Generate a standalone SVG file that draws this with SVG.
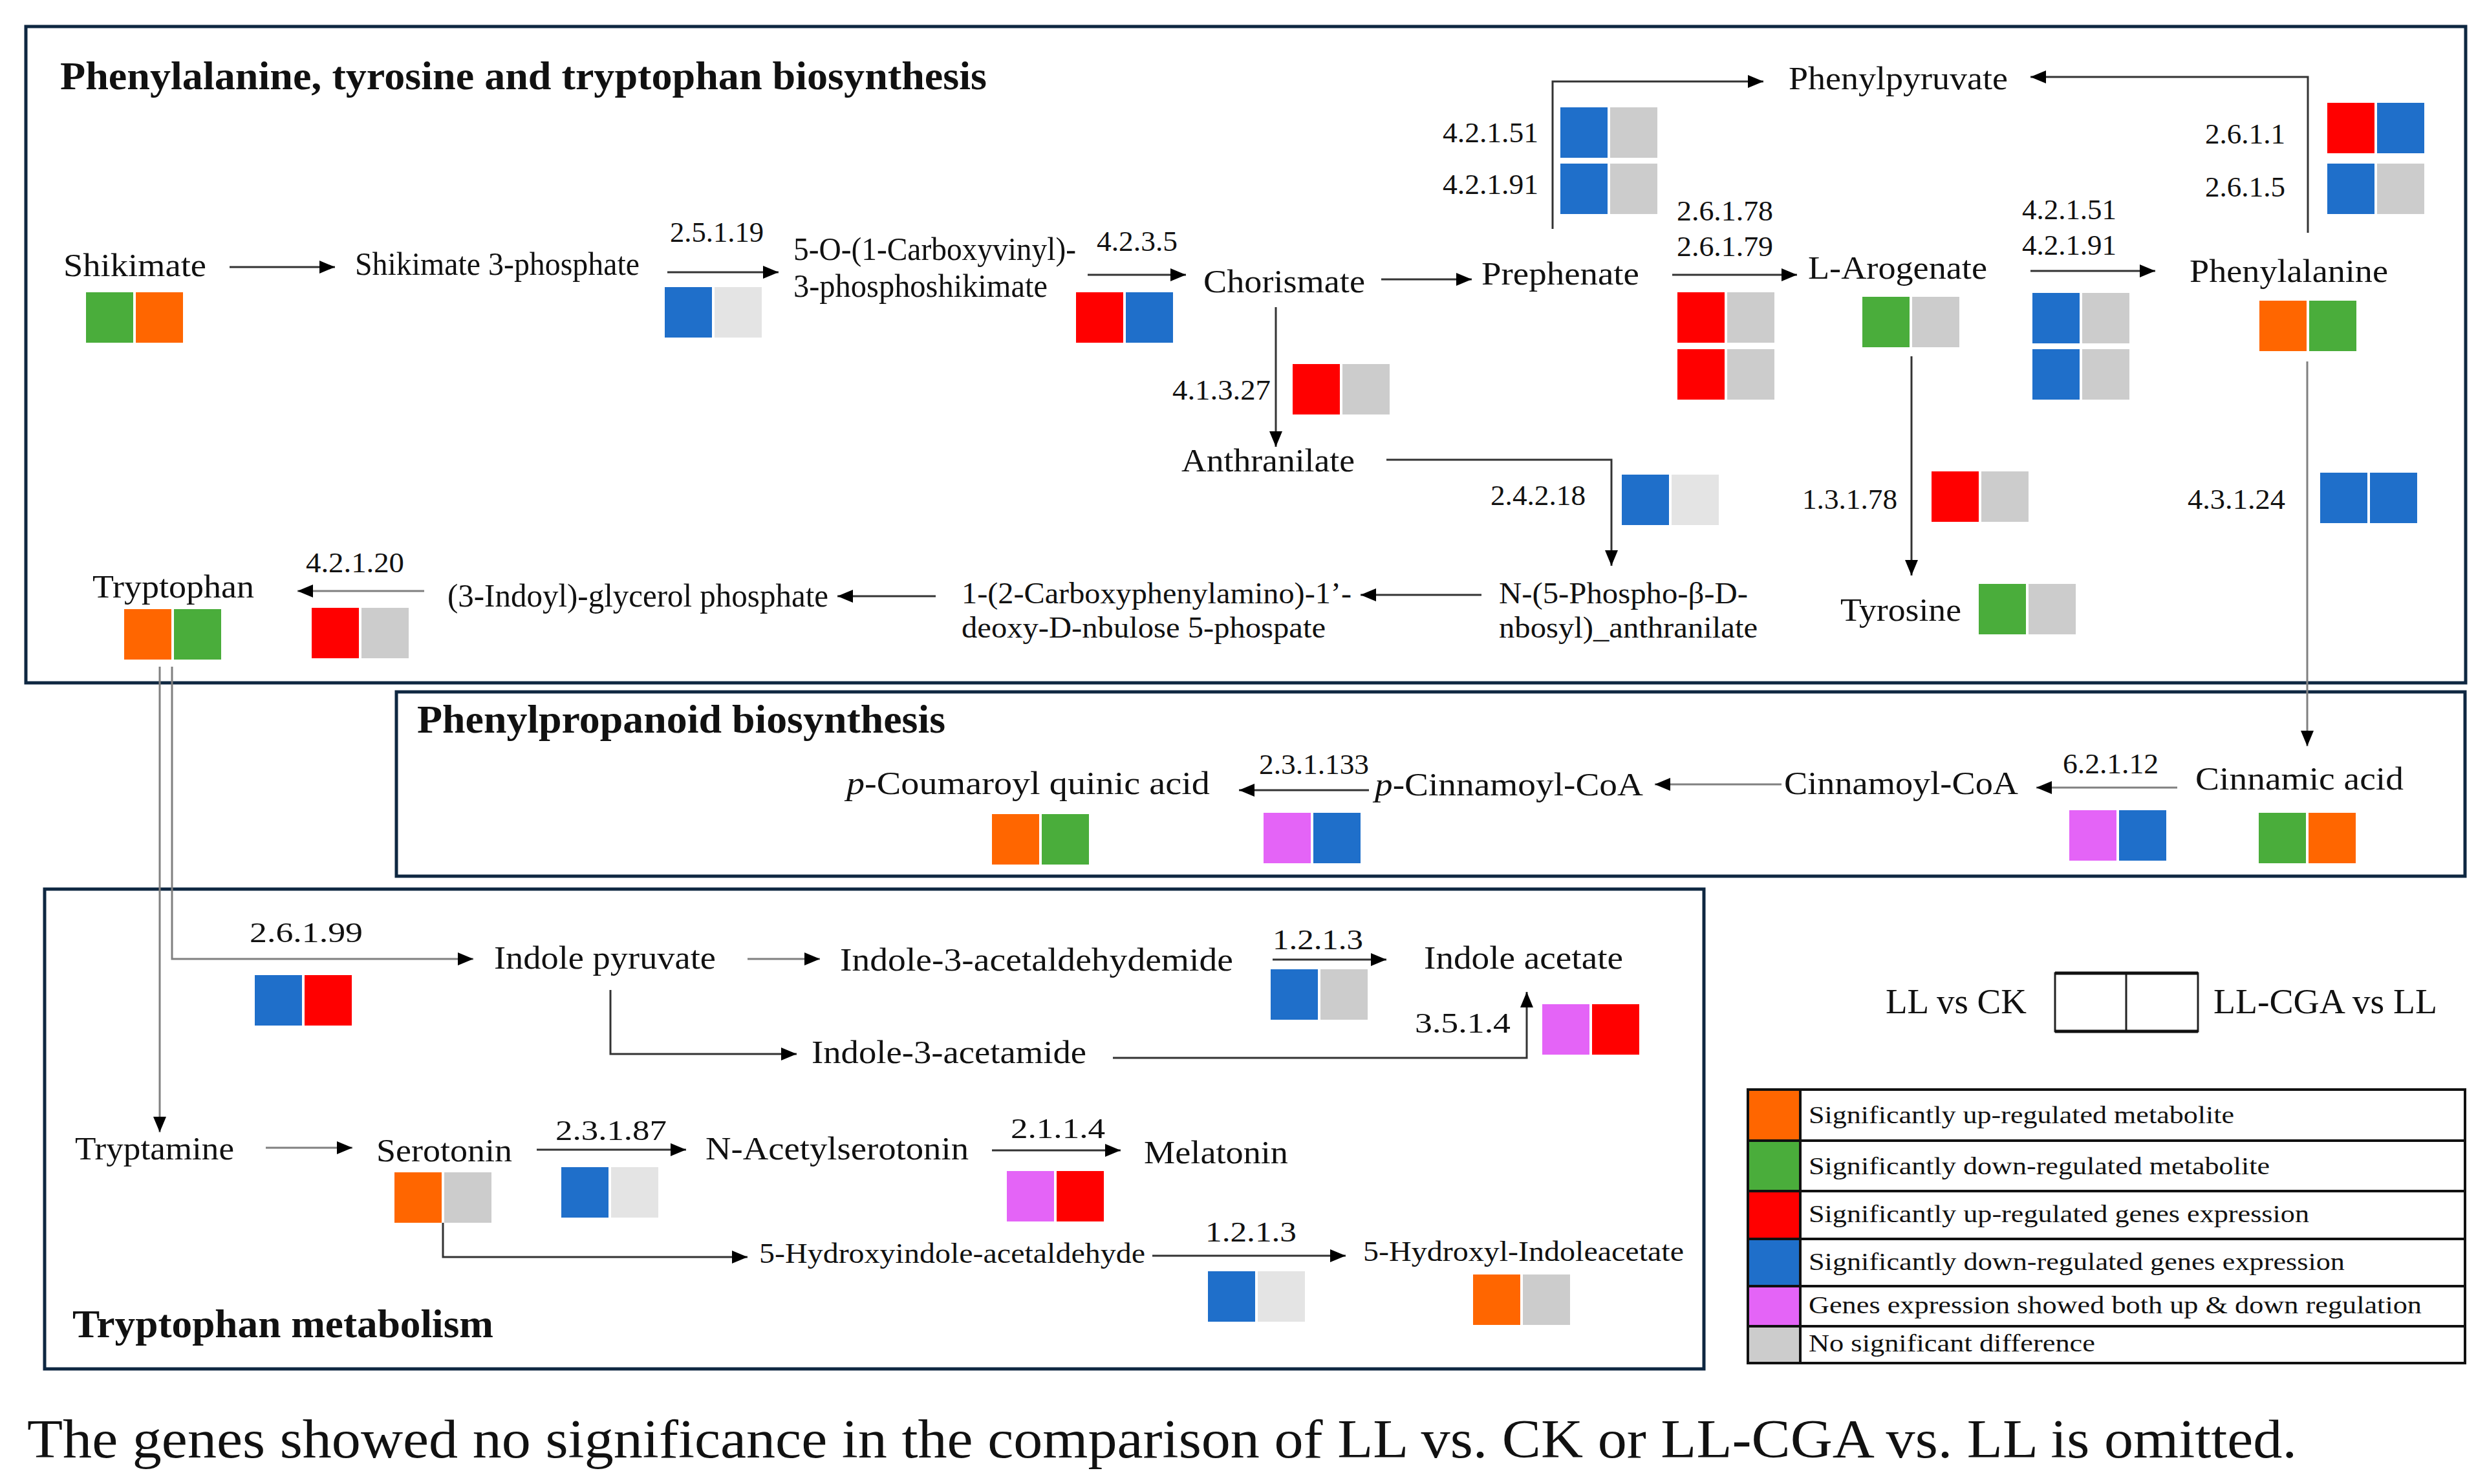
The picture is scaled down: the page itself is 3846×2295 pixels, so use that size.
<svg xmlns="http://www.w3.org/2000/svg" width="3846" height="2295" viewBox="0 0 3846 2295">
<style>
text{font-family:"Liberation Serif","Times New Roman",serif;fill:#111}
.mt{font-size:50px}
.ms{font-size:46px}
.ec{font-size:44px}
.tt{font-size:62px;font-weight:bold}
.lg{font-size:38px}
.hd{font-size:54px}
.cap{font-size:84px}
.box{fill:none;stroke:#0e2741;stroke-width:5}
.o{fill:#ff6600}.g{fill:#4aad3b}.r{fill:#ff0000}.b{fill:#1f6fca}.m{fill:#e464f7}.y{fill:#cccccc}.ly{fill:#e4e4e4}
.ln{fill:none;stroke:#333;stroke-width:3}
.lnG{fill:none;stroke:#808080;stroke-width:3}
.tb{fill:none;stroke:#111;stroke-width:4}
</style>
<defs>
<marker id="ah" markerUnits="userSpaceOnUse" markerWidth="24" markerHeight="20" refX="24" refY="10" orient="auto">
<path d="M0,0 L24,10 L0,20 z" fill="#000"/>
</marker>
</defs>
<rect width="3846" height="2295" fill="#fff"/>

<g id="panels">
<rect class="box" x="40" y="41" width="3773" height="1015"/>
<rect class="box" x="613" y="1070" width="3199" height="285"/>
<rect class="box" x="69" y="1375" width="2566" height="742"/>
<text class="tt" x="93" y="138" textLength="1433" lengthAdjust="spacingAndGlyphs">Phenylalanine, tyrosine and tryptophan biosynthesis</text>
<text class="tt" x="645" y="1133" textLength="817" lengthAdjust="spacingAndGlyphs">Phenylpropanoid biosynthesis</text>
<text class="tt" x="112" y="2068" textLength="651" lengthAdjust="spacingAndGlyphs">Tryptophan metabolism</text>
</g>

<g id="connectors">
<path class="ln" d="M355,413 H518" marker-end="url(#ah)"/>
<path class="ln" d="M1032,421 H1204" marker-end="url(#ah)"/>
<path class="ln" d="M1682,425 H1834" marker-end="url(#ah)"/>
<path class="ln" d="M2136,432 H2276" marker-end="url(#ah)"/>
<path class="ln" d="M1973,475 V691" marker-end="url(#ah)"/>
<path class="ln" d="M2401,354 V126 H2727" marker-end="url(#ah)"/>
<path class="ln" d="M2586,425 H2779" marker-end="url(#ah)"/>
<path class="ln" d="M3140,419 H3333" marker-end="url(#ah)"/>
<path class="ln" d="M3569,360 V119 H3140" marker-end="url(#ah)"/>
<path class="ln" d="M2956,551 V890" marker-end="url(#ah)"/>
<path class="lnG" d="M3568,559 V1154" marker-end="url(#ah)"/>
<path class="ln" d="M2144,711 H2492 V875" marker-end="url(#ah)"/>
<path class="ln" d="M2291,920 H2104" marker-end="url(#ah)"/>
<path class="ln" d="M1447,922 H1295" marker-end="url(#ah)"/>
<path class="lnG" d="M656,914 H460" marker-end="url(#ah)"/>
<path class="ln" d="M2117,1222 H1916" marker-end="url(#ah)"/>
<path class="lnG" d="M2755,1213 H2559" marker-end="url(#ah)"/>
<path class="lnG" d="M3367,1218 H3149" marker-end="url(#ah)"/>
<path class="lnG" d="M247,1031 V1751" marker-end="url(#ah)"/>
<path class="lnG" d="M266,1031 V1483 H732" marker-end="url(#ah)"/>
<path class="lnG" d="M1156,1483 H1268" marker-end="url(#ah)"/>
<path class="ln" d="M944,1531 V1630 H1232" marker-end="url(#ah)"/>
<path class="ln" d="M1968,1484 H2144" marker-end="url(#ah)"/>
<path class="ln" d="M1721,1636 H2361 V1534" marker-end="url(#ah)"/>
<path class="lnG" d="M411,1775 H545" marker-end="url(#ah)"/>
<path class="ln" d="M830,1778 H1061" marker-end="url(#ah)"/>
<path class="ln" d="M1534,1779 H1733" marker-end="url(#ah)"/>
<path class="ln" d="M685,1891 V1944 H1156" marker-end="url(#ah)"/>
<path class="ln" d="M1782,1942 H2081" marker-end="url(#ah)"/>
</g>

<g id="shikimate"><text class="mt" x="98" y="427" textLength="221" lengthAdjust="spacingAndGlyphs">Shikimate</text>
<g transform="translate(133,452)"><rect class="g" width="73" height="78"/><rect class="o" x="77" width="73" height="78"/></g></g>
<g id="shikimate-3-phosphate"><text class="mt" x="549" y="425" textLength="440" lengthAdjust="spacingAndGlyphs">Shikimate 3-phosphate</text></g>
<g id="ec-2.5.1.19"><text class="ec" x="1036" y="374" textLength="145" lengthAdjust="spacingAndGlyphs">2.5.1.19</text>
<g transform="translate(1028,444)"><rect class="b" width="73" height="78"/><rect class="ly" x="77" width="73" height="78"/></g></g>
<g id="carboxyvinyl"><text class="mt" x="1227" y="402" textLength="437" lengthAdjust="spacingAndGlyphs">5-O-(1-Carboxyvinyl)-</text>
<text class="mt" x="1227" y="459" textLength="393" lengthAdjust="spacingAndGlyphs">3-phosphoshikimate</text></g>
<g id="ec-4.2.3.5"><text class="ec" x="1696" y="388" textLength="125" lengthAdjust="spacingAndGlyphs">4.2.3.5</text>
<g transform="translate(1664,452)"><rect class="r" width="73" height="78"/><rect class="b" x="77" width="73" height="78"/></g></g>
<g id="chorismate"><text class="mt" x="1861" y="452" textLength="250" lengthAdjust="spacingAndGlyphs">Chorismate</text></g>
<g id="ec-4.1.3.27"><text class="ec" x="1813" y="618" textLength="152" lengthAdjust="spacingAndGlyphs">4.1.3.27</text>
<g transform="translate(1999,563)"><rect class="r" width="73" height="78"/><rect class="y" x="77" width="73" height="78"/></g></g>
<g id="prephenate"><text class="mt" x="2291" y="440" textLength="244" lengthAdjust="spacingAndGlyphs">Prephenate</text></g>
<g id="ec-4.2.1.51-91-a"><text class="ec" x="2231" y="220" textLength="148" lengthAdjust="spacingAndGlyphs">4.2.1.51</text>
<text class="ec" x="2231" y="300" textLength="148" lengthAdjust="spacingAndGlyphs">4.2.1.91</text>
<g transform="translate(2413,166)"><rect class="b" width="73" height="78"/><rect class="y" x="77" width="73" height="78"/></g>
<g transform="translate(2413,253)"><rect class="b" width="73" height="78"/><rect class="y" x="77" width="73" height="78"/></g></g>
<g id="phenylpyruvate"><text class="mt" x="2766" y="138" textLength="339" lengthAdjust="spacingAndGlyphs">Phenylpyruvate</text></g>
<g id="ec-2.6.1.78-79"><text class="ec" x="2593" y="341" textLength="149" lengthAdjust="spacingAndGlyphs">2.6.1.78</text>
<text class="ec" x="2593" y="396" textLength="149" lengthAdjust="spacingAndGlyphs">2.6.1.79</text>
<g transform="translate(2594,452)"><rect class="r" width="73" height="78"/><rect class="y" x="77" width="73" height="78"/></g>
<g transform="translate(2594,540)"><rect class="r" width="73" height="78"/><rect class="y" x="77" width="73" height="78"/></g></g>
<g id="l-arogenate"><text class="mt" x="2796" y="431" textLength="277" lengthAdjust="spacingAndGlyphs">L-Arogenate</text>
<g transform="translate(2880,459)"><rect class="g" width="73" height="78"/><rect class="y" x="77" width="73" height="78"/></g></g>
<g id="ec-4.2.1.51-91-b"><text class="ec" x="3127" y="339" textLength="146" lengthAdjust="spacingAndGlyphs">4.2.1.51</text>
<text class="ec" x="3127" y="394" textLength="146" lengthAdjust="spacingAndGlyphs">4.2.1.91</text>
<g transform="translate(3143,453)"><rect class="b" width="73" height="78"/><rect class="y" x="77" width="73" height="78"/></g>
<g transform="translate(3143,540)"><rect class="b" width="73" height="78"/><rect class="y" x="77" width="73" height="78"/></g></g>
<g id="phenylalanine"><text class="mt" x="3386" y="436" textLength="307" lengthAdjust="spacingAndGlyphs">Phenylalanine</text>
<g transform="translate(3494,465)"><rect class="o" width="73" height="78"/><rect class="g" x="77" width="73" height="78"/></g></g>
<g id="ec-2.6.1.1-5"><text class="ec" x="3410" y="222" textLength="124" lengthAdjust="spacingAndGlyphs">2.6.1.1</text>
<text class="ec" x="3410" y="304" textLength="124" lengthAdjust="spacingAndGlyphs">2.6.1.5</text>
<g transform="translate(3599,159)"><rect class="r" width="73" height="78"/><rect class="b" x="77" width="73" height="78"/></g>
<g transform="translate(3599,253)"><rect class="b" width="73" height="78"/><rect class="y" x="77" width="73" height="78"/></g></g>
<g id="anthranilate"><text class="mt" x="1827" y="729" textLength="268" lengthAdjust="spacingAndGlyphs">Anthranilate</text></g>
<g id="ec-2.4.2.18"><text class="ec" x="2305" y="781" textLength="147" lengthAdjust="spacingAndGlyphs">2.4.2.18</text>
<g transform="translate(2508,734)"><rect class="b" width="73" height="78"/><rect class="ly" x="77" width="73" height="78"/></g></g>
<g id="ec-1.3.1.78"><text class="ec" x="2787" y="787" textLength="147" lengthAdjust="spacingAndGlyphs">1.3.1.78</text>
<g transform="translate(2987,729)"><rect class="r" width="73" height="78"/><rect class="y" x="77" width="73" height="78"/></g></g>
<g id="ec-4.3.1.24"><text class="ec" x="3383" y="787" textLength="151" lengthAdjust="spacingAndGlyphs">4.3.1.24</text>
<g transform="translate(3588,731)"><rect class="b" width="73" height="78"/><rect class="b" x="77" width="73" height="78"/></g></g>
<g id="tyrosine"><text class="mt" x="2846" y="960" textLength="187" lengthAdjust="spacingAndGlyphs">Tyrosine</text>
<g transform="translate(3060,903)"><rect class="g" width="73" height="78"/><rect class="y" x="77" width="73" height="78"/></g></g>
<g id="phosphoribosyl-anthranilate"><text class="ms" x="2318" y="933" textLength="385" lengthAdjust="spacingAndGlyphs">N-(5-Phospho-β-D-</text>
<text class="ms" x="2318" y="986" textLength="400" lengthAdjust="spacingAndGlyphs">nbosyl)_anthranilate</text></g>
<g id="carboxyphenylamino"><text class="ms" x="1487" y="933" textLength="603" lengthAdjust="spacingAndGlyphs">1-(2-Carboxyphenylamino)-1’-</text>
<text class="ms" x="1487" y="986" textLength="563" lengthAdjust="spacingAndGlyphs">deoxy-D-nbulose 5-phospate</text></g>
<g id="indoylglycerol"><text class="mt" x="692" y="938" textLength="589" lengthAdjust="spacingAndGlyphs">(3-Indoyl)-glycerol phosphate</text></g>
<g id="ec-4.2.1.20"><text class="ec" x="473" y="885" textLength="152" lengthAdjust="spacingAndGlyphs">4.2.1.20</text>
<g transform="translate(482,940)"><rect class="r" width="73" height="78"/><rect class="y" x="77" width="73" height="78"/></g></g>
<g id="tryptophan"><text class="mt" x="143" y="924" textLength="250" lengthAdjust="spacingAndGlyphs">Tryptophan</text>
<g transform="translate(192,942)"><rect class="o" width="73" height="78"/><rect class="g" x="77" width="73" height="78"/></g></g>

<g id="cinnamic-acid"><text class="mt" x="3395" y="1221" textLength="322" lengthAdjust="spacingAndGlyphs">Cinnamic acid</text>
<g transform="translate(3493,1257)"><rect class="g" width="73" height="78"/><rect class="o" x="77" width="73" height="78"/></g></g>
<g id="ec-6.2.1.12"><text class="ec" x="3190" y="1196" textLength="148" lengthAdjust="spacingAndGlyphs">6.2.1.12</text>
<g transform="translate(3200,1253)"><rect class="m" width="73" height="78"/><rect class="b" x="77" width="73" height="78"/></g></g>
<g id="cinnamoyl-coa"><text class="mt" x="2759" y="1228" textLength="362" lengthAdjust="spacingAndGlyphs">Cinnamoyl-CoA</text></g>
<g id="p-cinnamoyl-coa"><text class="mt" x="2126" y="1230" textLength="415" lengthAdjust="spacingAndGlyphs"><tspan font-style="italic">p</tspan>-Cinnamoyl-CoA</text></g>
<g id="ec-2.3.1.133"><text class="ec" x="1947" y="1197" textLength="170" lengthAdjust="spacingAndGlyphs">2.3.1.133</text>
<g transform="translate(1954,1257)"><rect class="m" width="73" height="78"/><rect class="b" x="77" width="73" height="78"/></g></g>
<g id="p-coumaroyl-quinic-acid"><text class="mt" x="1309" y="1228" textLength="562" lengthAdjust="spacingAndGlyphs"><tspan font-style="italic">p</tspan>-Coumaroyl  quinic acid</text>
<g transform="translate(1534,1259)"><rect class="o" width="73" height="78"/><rect class="g" x="77" width="73" height="78"/></g></g>

<g id="ec-2.6.1.99"><text class="ec" x="386" y="1457" textLength="175" lengthAdjust="spacingAndGlyphs">2.6.1.99</text>
<g transform="translate(394,1508)"><rect class="b" width="73" height="78"/><rect class="r" x="77" width="73" height="78"/></g></g>
<g id="indole-pyruvate"><text class="mt" x="764" y="1498" textLength="343" lengthAdjust="spacingAndGlyphs">Indole pyruvate</text></g>
<g id="indole-3-acetaldehydemide"><text class="mt" x="1299" y="1501" textLength="608" lengthAdjust="spacingAndGlyphs">Indole-3-acetaldehydemide</text></g>
<g id="ec-1.2.1.3-a"><text class="ec" x="1968" y="1468" textLength="140" lengthAdjust="spacingAndGlyphs">1.2.1.3</text>
<g transform="translate(1965,1499)"><rect class="b" width="73" height="78"/><rect class="y" x="77" width="73" height="78"/></g></g>
<g id="indole-acetate"><text class="mt" x="2202" y="1498" textLength="308" lengthAdjust="spacingAndGlyphs">Indole acetate</text></g>
<g id="indole-3-acetamide"><text class="mt" x="1255" y="1644" textLength="425" lengthAdjust="spacingAndGlyphs">Indole-3-acetamide</text></g>
<g id="ec-3.5.1.4"><text class="ec" x="2188" y="1597" textLength="148" lengthAdjust="spacingAndGlyphs">3.5.1.4</text>
<g transform="translate(2385,1553)"><rect class="m" width="73" height="78"/><rect class="r" x="77" width="73" height="78"/></g></g>
<g id="tryptamine"><text class="mt" x="116" y="1793" textLength="246" lengthAdjust="spacingAndGlyphs">Tryptamine</text></g>
<g id="serotonin"><text class="mt" x="582" y="1796" textLength="210" lengthAdjust="spacingAndGlyphs">Serotonin</text>
<g transform="translate(610,1813)"><rect class="o" width="73" height="78"/><rect class="y" x="77" width="73" height="78"/></g></g>
<g id="ec-2.3.1.87"><text class="ec" x="859" y="1763" textLength="172" lengthAdjust="spacingAndGlyphs">2.3.1.87</text>
<g transform="translate(868,1805)"><rect class="b" width="73" height="78"/><rect class="ly" x="77" width="73" height="78"/></g></g>
<g id="n-acetylserotonin"><text class="mt" x="1091" y="1793" textLength="407" lengthAdjust="spacingAndGlyphs">N-Acetylserotonin</text></g>
<g id="ec-2.1.1.4"><text class="ec" x="1563" y="1760" textLength="146" lengthAdjust="spacingAndGlyphs">2.1.1.4</text>
<g transform="translate(1557,1811)"><rect class="m" width="73" height="78"/><rect class="r" x="77" width="73" height="78"/></g></g>
<g id="melatonin"><text class="mt" x="1769" y="1799" textLength="223" lengthAdjust="spacingAndGlyphs">Melatonin</text></g>
<g id="hydroxyindole-acetaldehyde"><text class="ec" x="1174" y="1953" textLength="597" lengthAdjust="spacingAndGlyphs">5-Hydroxyindole-acetaldehyde</text></g>
<g id="ec-1.2.1.3-b"><text class="ec" x="1864" y="1920" textLength="141" lengthAdjust="spacingAndGlyphs">1.2.1.3</text>
<g transform="translate(1868,1966)"><rect class="b" width="73" height="78"/><rect class="ly" x="77" width="73" height="78"/></g></g>
<g id="hydroxyl-indoleacetate"><text class="ec" x="2108" y="1950" textLength="496" lengthAdjust="spacingAndGlyphs">5-Hydroxyl-Indoleacetate</text>
<g transform="translate(2278,1971)"><rect class="o" width="73" height="78"/><rect class="y" x="77" width="73" height="78"/></g></g>

<g id="legend-key">
<text class="hd" x="2916" y="1567" textLength="218" lengthAdjust="spacingAndGlyphs">LL vs CK</text>
<rect x="3178" y="1505" width="221" height="90" fill="#fff" stroke="#222" stroke-width="3"/>
<line x1="3288" y1="1505" x2="3288" y2="1595" stroke="#222" stroke-width="3"/>
<line x1="3178" y1="1505" x2="3399" y2="1505" stroke="#111" stroke-width="5"/>
<line x1="3178" y1="1595" x2="3399" y2="1595" stroke="#111" stroke-width="5"/>
<text class="hd" x="3423" y="1567" textLength="346" lengthAdjust="spacingAndGlyphs">LL-CGA vs LL</text>
</g>

<g id="legend-table">
<rect class="o" x="2703" y="1685" width="81" height="79"/>
<rect class="g" x="2703" y="1764" width="81" height="78"/>
<rect class="r" x="2703" y="1842" width="81" height="74"/>
<rect class="b" x="2703" y="1916" width="81" height="73"/>
<rect class="m" x="2703" y="1989" width="81" height="62"/>
<rect class="y" x="2703" y="2051" width="81" height="57"/>
<rect class="tb" x="2703" y="1685" width="1109" height="423"/>
<path class="tb" d="M2703,1764 H3812 M2703,1842 H3812 M2703,1916 H3812 M2703,1989 H3812 M2703,2051 H3812 M2784,1685 V2108"/>
<text class="lg" x="2797" y="1737" textLength="658" lengthAdjust="spacingAndGlyphs">Significantly up-regulated metabolite</text>
<text class="lg" x="2797" y="1816" textLength="713" lengthAdjust="spacingAndGlyphs">Significantly down-regulated metabolite</text>
<text class="lg" x="2797" y="1890" textLength="774" lengthAdjust="spacingAndGlyphs">Significantly up-regulated genes expression</text>
<text class="lg" x="2797" y="1964" textLength="829" lengthAdjust="spacingAndGlyphs">Significantly down-regulated genes expression</text>
<text class="lg" x="2797" y="2031" textLength="948" lengthAdjust="spacingAndGlyphs">Genes expression showed both up &amp; down regulation</text>
<text class="lg" x="2797" y="2090" textLength="443" lengthAdjust="spacingAndGlyphs">No significant difference</text>
</g>

<g id="caption"><text class="cap" x="42" y="2254" textLength="3510" lengthAdjust="spacingAndGlyphs">The genes showed no significance in the comparison of LL vs. CK or LL-CGA vs. LL is omitted.</text></g>
</svg>
